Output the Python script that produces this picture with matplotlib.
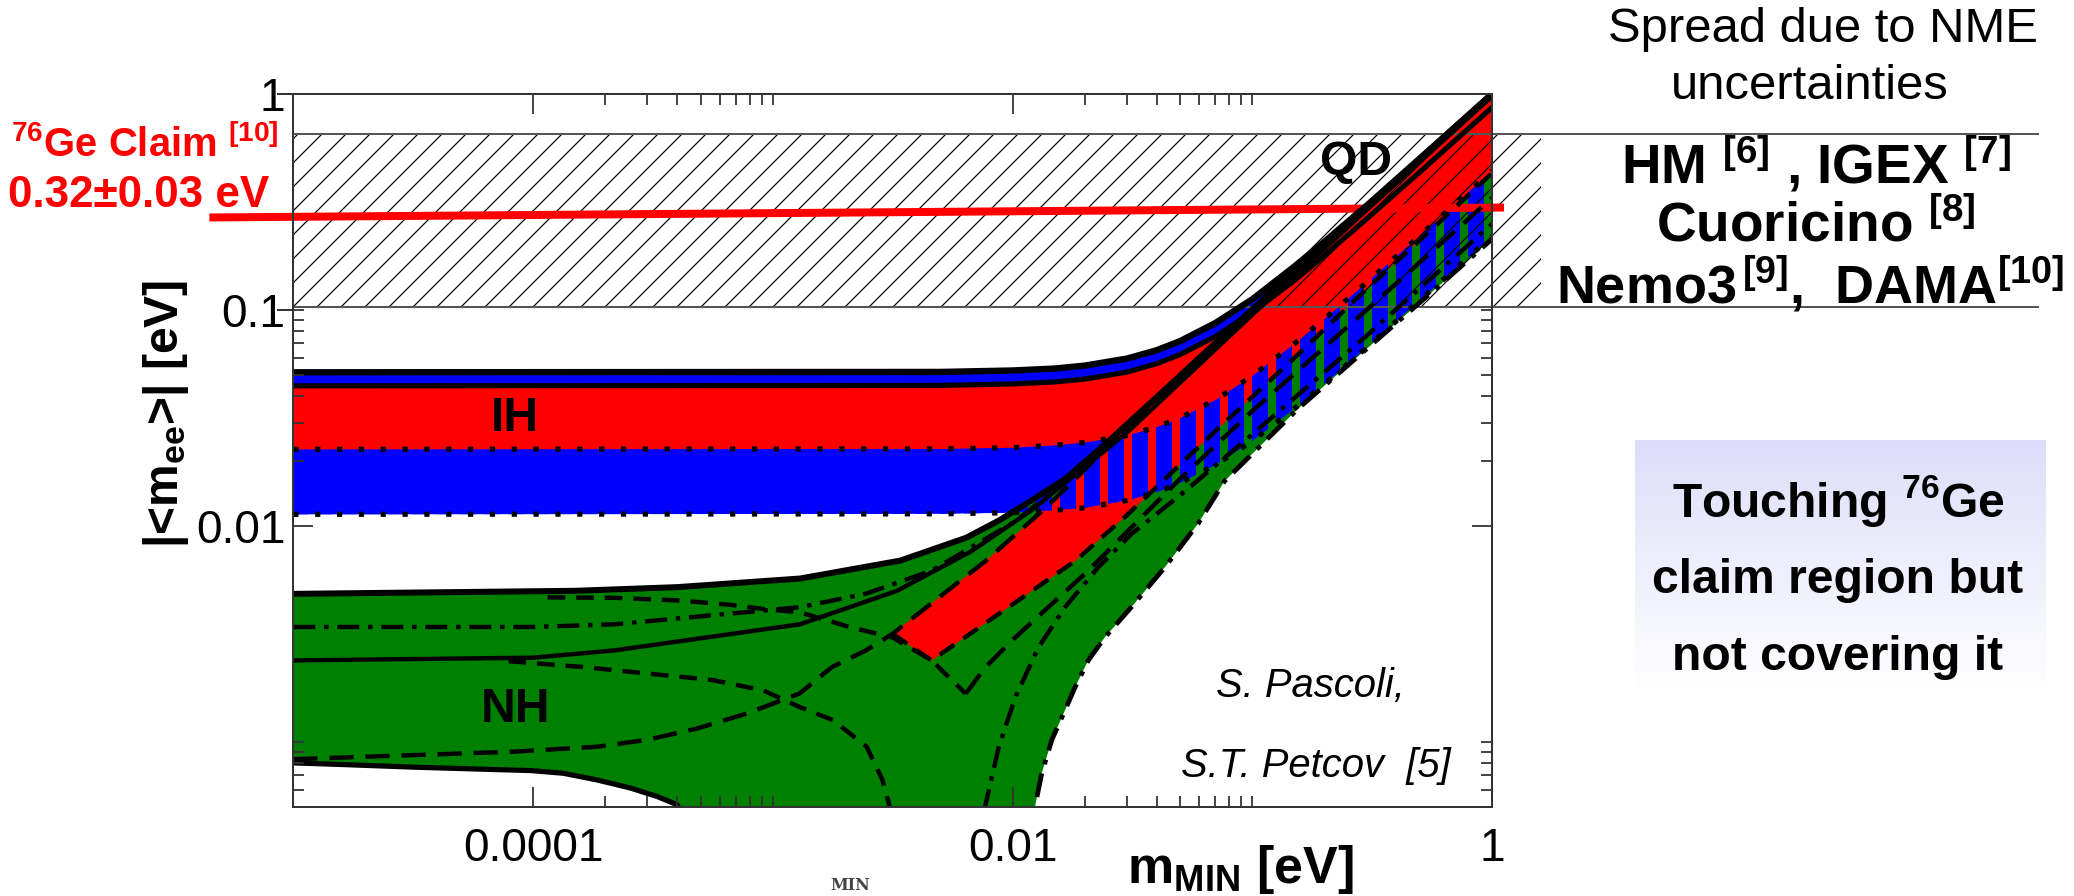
import numpy as np
import matplotlib
matplotlib.use("Agg")
import matplotlib.pyplot as plt
from matplotlib.ticker import FixedLocator, FuncFormatter, NullFormatter

plt.rcParams['font.family'] = ['Liberation Sans', 'DejaVu Sans']
plt.rcParams['mathtext.fontset'] = 'custom'
plt.rcParams['mathtext.rm'] = 'Liberation Sans:bold'
plt.rcParams['mathtext.it'] = 'Liberation Sans:italic:bold'
plt.rcParams['mathtext.bf'] = 'Liberation Sans:bold'

# ---- values: m_MIN [eV] -> |<m_ee>| [eV] ----

# inverted hierarchy (IH)
ih_m   = np.array([1e-5, 0.005, 0.01, 0.015, 0.02, 0.03, 0.04, 0.05, 0.07, 0.1, 0.15, 0.2, 0.3, 0.5, 0.7, 1.0])
ih_top = np.array([0.0514, 0.0516, 0.0524, 0.0535, 0.0552, 0.0595, 0.0651, 0.0717, 0.0868, 0.112, 0.159, 0.207, 0.304, 0.503, 0.702, 1.0])
ih_mid = np.array([0.0445, 0.0447, 0.0454, 0.0464, 0.0478, 0.0515, 0.0564, 0.0621, 0.0752, 0.0974, 0.137, 0.179, 0.264, 0.435, 0.608, 0.866])
ih_dot = np.array([0.0226, 0.0227, 0.0230, 0.0236, 0.0243, 0.0262, 0.0287, 0.0316, 0.0382, 0.0495, 0.0698, 0.0909, 0.134, 0.221, 0.309, 0.44])
ih_bot = np.array([0.0113, 0.01136, 0.0115, 0.0118, 0.0121, 0.0131, 0.0143, 0.0158, 0.0191, 0.0247, 0.0349, 0.0454, 0.0670, 0.111, 0.154, 0.22])

# normal hierarchy (NH) envelope
nh_top_m = np.array([1e-5, 1.5e-4, 4e-4, 1.3e-3, 3.4e-3, 6.4e-3, 8.8e-3, 0.012, 0.0166, 0.025, 0.04, 0.07, 0.12, 0.2, 0.35, 0.6, 1.0])
nh_top_y = np.array([0.00484, 0.0050, 0.0052, 0.0057, 0.0069, 0.0088, 0.0106, 0.0131, 0.0165, 0.0245, 0.0395, 0.0700, 0.121, 0.201, 0.351, 0.601, 1.0])
nh_bot_m = np.array([1e-5, 1.7e-5, 3.2e-5, 6.1e-5, 9.8e-5, 1.34e-4, 1.85e-4, 2.55e-4, 3.3e-4, 4.0e-4, 5.5e-4,
                     0.0118, 0.01245, 0.01324, 0.01459, 0.01656, 0.01824, 0.0207, 0.0243, 0.0313, 0.0432, 0.0593,
                     0.0766, 0.1545, 0.3, 0.6, 1.0])
nh_bot_y = np.array([7.98e-4, 7.82e-4, 7.62e-4, 7.46e-4, 7.35e-4, 7.14e-4, 6.65e-4, 6.10e-4, 5.57e-4, 5.10e-4, 2e-4,
                     2e-4, 5.1e-4, 7.14e-4, 1.02e-3, 1.40e-3, 1.79e-3, 2.38e-3, 3.05e-3, 4.20e-3, 6.43e-3, 0.0102,
                     0.0161, 0.0347, 0.066, 0.129, 0.213])
nh_bot_split = 11   # solid left part / dash-dot right part

# red strip inside NH
nh_red_up_m = np.array([3.16e-3, 7.74e-3, 0.01374, 0.03, 0.1, 0.3, 1.0])
nh_red_up_y = np.array([3.16e-3, 6.89e-3, 0.0121, 0.0283, 0.098, 0.295, 0.985])
nh_red_lo_m = np.array([3.16e-3, 4.6e-3, 0.0183, 0.03, 0.07, 0.15, 0.3, 0.5, 1.0])
nh_red_lo_y = np.array([3.16e-3, 2.38e-3, 6.89e-3, 0.0112, 0.0274, 0.06, 0.125, 0.21, 0.43])

# other NH curves
nh_l2_m = np.array([1e-5, 1e-4, 2.2e-4, 1.3e-3, 2.45e-3, 4.6e-3, 0.0103, 0.02, 0.04, 0.1, 0.3, 1.0])
nh_l2_y = np.array([3.4e-3, 3.4e-3, 3.5e-3, 4.2e-3, 4.85e-3, 6.2e-3, 0.0105, 0.019, 0.038, 0.098, 0.296, 0.99])
nh_l3_m = np.array([1e-5, 1e-4, 2.2e-4, 1.3e-3, 3.3e-3, 6.7e-3, 0.012, 0.03, 0.1, 0.3, 1.0])
nh_l3_y = np.array([2.38e-3, 2.45e-3, 2.65e-3, 3.5e-3, 5.0e-3, 7.6e-3, 0.0118, 0.027, 0.095, 0.29, 0.975])
nh_l4_m = np.array([7.9e-5, 1.6e-4, 3e-4, 5.6e-4, 9.1e-4, 1.29e-3, 1.78e-3, 2.46e-3, 2.86e-3, 3.06e-3, 3.25e-3])
nh_l4_y = np.array([2.36e-3, 2.22e-3, 2.07e-3, 1.93e-3, 1.73e-3, 1.45e-3, 1.26e-3, 9.5e-4, 6.7e-4, 5.1e-4, 3e-4])
nh_l5_m = np.array([1e-5, 3.18e-5, 8.28e-5, 1.85e-4, 2.99e-4, 4.82e-4, 7.78e-4, 1.29e-3, 1.77e-3, 2.45e-3, 3.16e-3,
                    7.74e-3, 0.01374, 0.03, 0.1, 0.3, 1.0])
nh_l5_y = np.array([8.3e-4, 8.67e-4, 8.99e-4, 9.48e-4, 1.02e-3, 1.15e-3, 1.35e-3, 1.67e-3, 2.22e-3, 2.65e-3, 3.16e-3,
                    6.89e-3, 0.0121, 0.0283, 0.098, 0.295, 0.985])
nh_l6a_m = np.array([1.15e-4, 2.16e-4, 4.1e-4, 6.6e-4, 9.1e-4, 1.29e-3, 2.09e-3, 3.16e-3, 4.6e-3, 6.38e-3])
nh_l6a_y = np.array([4.66e-3, 4.64e-3, 4.51e-3, 4.31e-3, 4.12e-3, 3.98e-3, 3.4e-3, 3.04e-3, 2.38e-3, 1.67e-3])
nh_l6b_m = np.array([6.38e-3, 7.7e-3, 9.93e-3, 0.0207, 0.05, 0.1, 0.3, 1.0])
nh_l6b_y = np.array([1.67e-3, 2.21e-3, 2.94e-3, 6.2e-3, 0.0165, 0.034, 0.1, 0.33])
nh_l7_m = np.array([7.4e-3, 7.71e-3, 8.77e-3, 0.01028, 0.01285, 0.01656, 0.0228, 0.0313, 0.0506, 0.1, 0.3, 1.0])
nh_l7_y = np.array([3e-4, 5.1e-4, 9.48e-4, 1.61e-3, 2.74e-3, 4.2e-3, 6.43e-3, 9.16e-3, 0.014, 0.0265, 0.076, 0.25])

# experimental band and the 76Ge claim
band_lo, band_hi = 0.103, 0.65
band_hatch_end = 1.6
band_line_end = 190.0
claim_m = np.array([10 ** -5.35, 10 ** 0.05])
claim_y = np.array([0.268, 0.298])

# ticks
x_major = [1e-4, 1e-2, 1.0]
x_labels = ['0.0001', '0.01', '1']
x_minor = [k * 1e-4 for k in range(2, 11)] + [k * 1e-2 for k in range(2, 11)]
y_major = [1e-2, 1.0]
y_labels = {1e-2: '0.01', 1.0: '1', 0.1: '0.1'}
y_minor = [k * 1e-4 for k in range(5, 11)] + [k * 1e-2 for k in range(2, 11)]

GREEN, BLUE, RED = '#008000', '#0000ff', '#ff0000'

W, H, DPI = 2074, 896, 144


def fx(px):
    return px / W


def fy(py):
    return 1 - py / H


def poly(xt, yt, xb, yb):
    return np.r_[xt, xb[::-1]], np.r_[yt, yb[::-1]]


fig = plt.figure(figsize=(W / DPI, H / DPI), dpi=DPI)
ax = fig.add_axes([fx(293.3), fy(806.7), (1492 - 293.3) / W, (806.7 - 94) / H])
ax.set_xscale('log')
ax.set_yscale('log')
ax.set_xlim(1e-5, 1.0)
ax.set_ylim(5e-4, 1.0)


def striped(x, y, color, lw):
    with plt.rc_context({'hatch.linewidth': lw}):
        p, = ax.fill(x, y, facecolor='none', edgecolor=color, hatch='|', lw=0, zorder=3)
    if hasattr(p, 'set_hatch_linewidth'):
        p.set_hatch_linewidth(lw)


# solid regions
ax.fill(*poly(ih_m, ih_top, ih_m, ih_bot), color=BLUE, lw=0, zorder=1)
ax.fill(*poly(ih_m, ih_mid, ih_m, ih_dot), color=RED, lw=0, zorder=1.1)
ax.fill(*poly(nh_top_m, nh_top_y, nh_bot_m, nh_bot_y), color=GREEN, lw=0, zorder=2)
ax.fill(*poly(nh_red_up_m, nh_red_up_y, nh_red_lo_m, nh_red_lo_y), color=RED, lw=0, zorder=2.1)

# overlap of IH on NH -> vertical stripes
striped(*poly(ih_m, ih_dot, ih_m, ih_bot), BLUE, 8)
striped(*poly(ih_m, ih_mid, ih_m, ih_dot), RED, 8)

# hatched experimental band
with plt.rc_context({'hatch.linewidth': 0.6}):
    hb, = ax.fill([1e-5, band_hatch_end, band_hatch_end, 1e-5], [band_lo, band_lo, band_hi, band_hi],
                  facecolor='none', edgecolor='black', hatch='//', lw=0, zorder=4, clip_on=False)
if hasattr(hb, 'set_hatch_linewidth'):
    hb.set_hatch_linewidth(0.6)
for yb in (band_lo, band_hi):
    ax.plot([1e-5, band_line_end], [yb, yb], color='#555555', lw=1.0, zorder=4, clip_on=False)

# 76Ge claim line
ax.plot(claim_m, claim_y, color=RED, lw=4, solid_capstyle='butt', zorder=5, clip_on=False)

# black CP-conserving curves
dash = (0, (4, 2.5))
ldash = (0, (5.5, 2.7))
dashdot = (0, (5, 2, 1, 2))
dots = (0, (1, 3.2))
lines = [
    (ih_m, ih_top, '-', 3.2),
    (ih_m, ih_mid, '-', 2.6),
    (ih_m, ih_dot, dots, 2.6),
    (ih_m, ih_bot, dots, 2.6),
    (nh_top_m, nh_top_y, '-', 3.0),
    (nh_bot_m[:nh_bot_split], nh_bot_y[:nh_bot_split], '-', 2.6),
    (nh_bot_m[nh_bot_split:], nh_bot_y[nh_bot_split:], dashdot, 2.4),
    (nh_l2_m, nh_l2_y, dashdot, 2.2),
    (nh_l3_m, nh_l3_y, '-', 2.2),
    (nh_l4_m, nh_l4_y, dash, 2.2),
    (nh_l5_m, nh_l5_y, ldash, 2.2),
    (nh_l6a_m, nh_l6a_y, dash, 2.2),
    (nh_l6b_m, nh_l6b_y, ldash, 2.2),
    (nh_l7_m, nh_l7_y, dashdot, 2.2),
    (nh_red_lo_m, nh_red_lo_y, dash, 2.2),
]
for xm, ym, ls, lw in lines:
    ax.plot(xm, ym, color='black', ls=ls, lw=lw, zorder=6)

# region labels
fig.text(fx(515), fy(418), 'IH', fontsize=24, fontweight='bold', ha='center', va='center', zorder=7)
fig.text(fx(515), fy(709), 'NH', fontsize=24, fontweight='bold', ha='center', va='center', zorder=7)
fig.text(fx(1356), fy(162), 'QD', fontsize=24, fontweight='bold', ha='center', va='center', zorder=7)
fig.text(fx(1216), fy(697), 'S. Pascoli,', fontsize=20, style='italic', ha='left', va='baseline')
fig.text(fx(1181), fy(777), 'S.T. Petcov  [5]', fontsize=20, style='italic', ha='left', va='baseline')

# axes cosmetics
for s in ax.spines.values():
    s.set_linewidth(1.0)
    s.set_color('#333333')
    s.set_zorder(10)
ax.xaxis.set_zorder(10)
ax.yaxis.set_zorder(10)
ax.xaxis.set_major_locator(FixedLocator(x_major))
ax.xaxis.set_major_formatter(FuncFormatter(lambda v, p: x_labels[int(np.argmin(np.abs(np.log10(x_major) - np.log10(v))))]))
ax.xaxis.set_minor_locator(FixedLocator(x_minor))
ax.xaxis.set_minor_formatter(NullFormatter())
ax.yaxis.set_major_locator(FixedLocator(y_major))
ax.yaxis.set_minor_locator(FixedLocator(y_minor))


def ylab(v, p):
    for k, t in y_labels.items():
        if abs(np.log10(v) - np.log10(k)) < 1e-6:
            return t
    return ''


ax.yaxis.set_major_formatter(FuncFormatter(ylab))
ax.yaxis.set_minor_formatter(FuncFormatter(ylab))
ax.tick_params(which='major', direction='in', length=10, width=0.9, color='#333333', top=True, right=True,
               labelsize=23)
ax.tick_params(which='minor', direction='in', length=5.5, width=0.9, color='#333333', top=True, right=True,
               labelsize=23)
ax.tick_params(axis='x', which='both', pad=10)
ax.tick_params(axis='y', which='both', pad=4)
for yt in (0.1, 1.0):
    ax.plot([-0.013, 0], [yt, yt], transform=ax.get_yaxis_transform(), color='#333333', lw=1.0, clip_on=False)

# axis titles
fig.text(fx(166), fy(414), r'|<m$_{\mathrm{ee}}$>| [eV]', fontsize=24, fontweight='bold', rotation=90,
         ha='center', va='center')
fig.text(fx(1240), fy(883), r'm$_{\mathrm{MIN}}$ [eV]', fontsize=26, fontweight='bold', ha='center', va='baseline')
fig.text(fx(850), fy(885), 'MIN', family='DejaVu Serif', fontsize=8, fontweight='bold', color='#444444',
         ha='center', va='center')

# left: the claim
fig.text(fx(145), fy(157), r'$^{76}$Ge Claim $^{[10]}$', color=RED, fontsize=20, fontweight='bold',
         ha='center', va='baseline')
fig.text(fx(139), fy(207), '0.32\u00b10.03 eV', color=RED, fontsize=22, fontweight='bold',
         ha='center', va='baseline')

# right: experiments
fig.text(fx(1823), fy(42), 'Spread due to NME', fontsize=24.5, ha='center', va='baseline')
fig.text(fx(1810), fy(99), 'uncertainties', fontsize=24.5, ha='center', va='baseline')
fig.text(fx(1816), fy(184), r'HM $^{[6]}$ , IGEX $^{[7]}$', fontsize=27.5, fontweight='bold', ha='center', va='baseline')
fig.text(fx(1816), fy(241), r'Cuoricino $^{[8]}$', fontsize=27.5, fontweight='bold', ha='center', va='baseline')
fig.text(fx(1810), fy(304), r'Nemo3$^{\,[9]}$,  DAMA$^{[10]}$', fontsize=27, fontweight='bold',
         ha='center', va='baseline')

# right: lavender note box
box = fig.add_axes([fx(1635), fy(690), 410 / W, 250 / H])
t = np.linspace(0, 1, 200)[:, None, None]
top_c = np.array([0.867, 0.867, 0.98])
grad = top_c * (1 - t) + np.array([1.0, 1.0, 1.0]) * t
box.imshow(np.repeat(grad, 2, axis=1), aspect='auto', interpolation='bilinear')
box.axis('off')
fig.text(fx(1838), fy(517), r'Touching $^{76}$Ge', fontsize=24, fontweight='bold', ha='center', va='baseline')
fig.text(fx(1838), fy(593), 'claim region but', fontsize=24, fontweight='bold', ha='center', va='baseline')
fig.text(fx(1838), fy(670), 'not covering it', fontsize=24, fontweight='bold', ha='center', va='baseline')

fig.savefig('out.png', dpi=DPI)
